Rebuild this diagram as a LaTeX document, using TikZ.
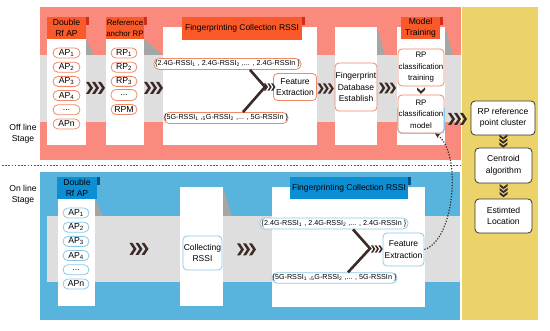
\documentclass[tikz,border=0pt]{standalone}
\usepackage{fontspec}
\setmainfont{Liberation Sans}
\usetikzlibrary{calc,arrows.meta}

\definecolor{pinkbg}{RGB}{250,138,126}
\definecolor{yellowbg}{RGB}{235,211,106}
\definecolor{bluebg}{RGB}{88,180,220}
\definecolor{bandgray}{RGB}{222,222,222}
\definecolor{shadowgray}{RGB}{165,165,165}
\definecolor{hdror}{RGB}{250,90,42}
\definecolor{tabor}{RGB}{212,44,24}
\definecolor{hdrbl}{RGB}{12,142,212}
\definecolor{tabbl}{RGB}{0,82,138}
\definecolor{linor}{RGB}{238,138,104}
\definecolor{linbl}{RGB}{140,200,230}
\definecolor{chevcol}{RGB}{60,42,38}
\definecolor{dashcol}{RGB}{90,90,90}

\tikzset{
  fnt/.style={font=\fontsize{#1}{11.5}\selectfont},
  hdrbox/.style={inner sep=0pt, align=center, fnt=8.6},
  pillO/.style={draw=linor, line width=0.8pt, fill=white, rounded corners=5pt,
     inner sep=0pt, minimum width=27pt, minimum height=10pt, fnt=8.7},
  pillB/.style={pillO, draw=linbl},
  rssi/.style={draw=#1, line width=0.8pt, fill=white, rounded corners=5pt,
     inner sep=0pt, minimum height=11pt, fnt=7.2},
  boxO/.style={draw=linor, line width=0.8pt, fill=white, rounded corners=4pt,
     inner sep=0pt, align=center, fnt=8.5},
  boxB/.style={boxO, draw=linbl},
  boxK/.style={draw=black!80, line width=0.8pt, fill=white, rounded corners=4pt,
     inner sep=0pt, align=center, fnt=8.6, minimum width=57pt, minimum height=34pt},
  lbl/.style={inner sep=0pt, align=center, fnt=8.6},
  vline/.style={draw=chevcol, line width=2.6pt, line join=miter},
  chevs/.pic={\foreach \d in {-6,0,6}
     {\fill[chevcol] (\d-3.5,-6) -- (\d-0.5,-6) -- (\d+3.5,0) -- (\d-0.5,6) -- (\d-3.5,6) -- (\d+0.5,0) -- cycle;}},
  chevdown/.pic={\foreach \d in {-4,0,4}
     {\fill[chevcol] (-4,\d-3) -- (0,\d) -- (4,\d-3) -- (4,\d-0.8) -- (0,\d+2.2) -- (-4,\d-0.8) -- cycle;}},
  chevone/.pic={\fill[chevcol] (-4,-3) -- (0,0.5) -- (4,-3) -- (4,-0.5) -- (0,3.5) -- (-4,-0.5) -- cycle;},
}

\begin{document}
\begin{tikzpicture}[x=1pt,y=-1pt]
\useasboundingbox (0,0) rectangle (550,331);
\fill[white] (0,0) rectangle (550,331);

% panels
\fill[pinkbg] (40,7) rectangle (461,160);
\fill[yellowbg] (462,7) rectangle (538,320);
\fill[bluebg] (40,172) rectangle (460,320);
% gray bands
\fill[bandgray] (40,55) rectangle (461,122);
\fill[bandgray] (47,216) rectangle (460,282);
% dashed separator
\draw[dashcol, line width=0.6pt, dash pattern=on 1.6pt off 1.6pt] (2,165) -- (460,165);

% shadows (pink)
\fill[shadowgray] (86,39) -- (94,55) -- (86,55) -- cycle;
\fill[shadowgray] (144,39) -- (163,55) -- (144,55) -- cycle;
\fill[shadowgray] (377,27) -- (385,55) -- (377,55) -- cycle;
\fill[shadowgray] (445,27) -- (453,55) -- (445,55) -- cycle;
% shadows (blue)
\fill[shadowgray] (95,199) -- (103,216) -- (95,216) -- cycle;
\fill[shadowgray] (223,187) -- (232,216) -- (223,216) -- cycle;

% white columns (pink)
\fill[white] (47,39) rectangle (86,145);
\fill[white] (106,39) rectangle (144,145);
\fill[white] (163,27) rectangle (317,145);
\fill[white] (335,27) rectangle (377,145);
\fill[white] (397,27) rectangle (445,145);
% white columns (blue)
\fill[white] (58,199) rectangle (95,306);
\fill[white] (180,187) rectangle (223,306);
\fill[white] (272,187) rectangle (425,307);

% headers (pink)
\node[hdrbox, fill=hdror, minimum width=39pt, minimum height=22pt] (h1) at (66.5,28) {Double\\Rf AP};
\fill[tabor] (h1.north east) rectangle ++(3,8);
\node[hdrbox, fill=hdror, minimum width=38pt, minimum height=22pt, fnt=7.9] (h2) at (125,28) {Reference\\anchor RP};
\fill[tabor] (h2.north east) rectangle ++(3,8);
\node[hdrbox, fill=hdror, minimum width=120pt, minimum height=23pt, fnt=8.5] (h3) at (242,28.5) {Fingerprinting Collection RSSI};
\fill[tabor] (h3.north east) rectangle ++(3,8);
\node[hdrbox, fill=hdror, minimum width=39pt, minimum height=22pt] (h5) at (420.5,28) {Model\\Training};
\fill[tabor] (h5.north east) rectangle ++(3,8);
% headers (blue)
\node[hdrbox, fill=hdrbl, minimum width=40pt, minimum height=22pt] (b1) at (77,188) {Double\\Rf AP};
\fill[tabbl] (b1.north east) rectangle ++(2.5,8);
\node[hdrbox, fill=hdrbl, minimum width=118pt, minimum height=22pt, fnt=8.5] (b3) at (349,188) {Fingerprinting Collection RSSI};
\fill[tabbl] (b3.north east) rectangle ++(3,8);

% labels
\node[lbl] (off) at (23,134) {Off line\\Stage};
\node[lbl] (on) at (23,195) {On line\\Stage};

% AP pills (pink)
\node[pillO] (ap1) at (66.5,53) {AP\textsubscript{1}};
\node[pillO] (ap2) at (66.5,67.2) {AP\textsubscript{2}};
\node[pillO] (ap3) at (66.5,81.4) {AP\textsubscript{3}};
\node[pillO] (ap4) at (66.5,95.6) {AP\textsubscript{4}};
\node[pillO] (ap5) at (66.5,109.8) {...};
\node[pillO] (ap6) at (66.5,124) {APn};
% RP pills
\node[pillO, minimum width=26pt] (rp1) at (124,53) {RP\textsubscript{1}};
\node[pillO, minimum width=26pt] (rp2) at (124,67.2) {RP\textsubscript{2}};
\node[pillO, minimum width=26pt] (rp3) at (124,81.4) {RP\textsubscript{3}};
\node[pillO, minimum width=26pt, minimum height=11pt] (rp4) at (124,95) {...};
\node[pillO, minimum width=26pt] (rp5) at (124,109.5) {RPM};

% RSSI pills (pink)
\node[rssi=linor, minimum width=147pt] (s1) at (227.5,64) {\{2.4G-RSSI\textsubscript{1} , 2.4G-RSSI\textsubscript{2} ,... , 2.4G-RSSIn \}};
\node[rssi=linor, minimum width=124pt] (s2) at (226,118) {\{5G-RSSI\textsubscript{1} ,\textsubscript{5}G-RSSI\textsubscript{2} ,... , 5G-RSSIn \}};
\node[boxO, minimum width=43pt, minimum height=27pt] (fe1) at (295,87) {Feature\\Extraction};
\node[boxO, minimum width=42pt, minimum height=48pt] (fdb) at (356,87) {Fingerprint\\Database\\Establish};
\node[boxO, minimum width=46pt, minimum height=37pt, fnt=7.9] (rpt) at (421,67.5) {RP\\classification\\training};
\node[boxO, minimum width=46pt, minimum height=38pt, fnt=7.9] (rpm) at (421,114) {RP\\classification\\model};
\draw[draw=linbl, line width=0.8pt, rounded corners=4pt] ([yshift=6pt]rpm.west) |- (rpm.south) -| ([yshift=6pt]rpm.east);

% yellow column
\node[boxK, minimum width=64pt] (clu) at (503,118) {RP reference\\point cluster};
\node[boxK, minimum height=35pt] (cen) at (503.5,165.5) {Centroid\\algorithm};
\node[boxK] (loc) at (503.5,216) {Estimted\\Location};

% AP pills (blue)
\node[pillB, minimum width=26pt] (bp1) at (76,213) {AP\textsubscript{1}};
\node[pillB, minimum width=26pt] (bp2) at (76,227.2) {AP\textsubscript{2}};
\node[pillB, minimum width=26pt] (bp3) at (76,241.4) {AP\textsubscript{3}};
\node[pillB, minimum width=26pt] (bp4) at (76,255.6) {AP\textsubscript{4}};
\node[pillB, minimum width=26pt] (bp5) at (76,269.8) {...};
\node[pillB, minimum width=26pt] (bp6) at (76,284) {APn};

\node[boxB, minimum width=39pt, minimum height=34pt] (col) at (202.5,253) {Collecting\\RSSI};
\node[rssi=linbl, minimum width=148pt] (s3) at (334,223.5) {\{2.4G-RSSI\textsubscript{1} , 2.4G-RSSI\textsubscript{2} ,... , 2.4G-RSSIn \}};
\node[rssi=linbl, minimum width=125pt, minimum height=10.5pt] (s4) at (334.5,278) {\{5G-RSSI\textsubscript{1} ,\textsubscript{5}G-RSSI\textsubscript{2} ,... , 5G-RSSIn \}};
\node[boxB, minimum width=41pt, minimum height=33pt] (fe2) at (403.5,249.5) {Feature\\Extraction};

% converging lines
\coordinate (tip1) at (265,87);
\coordinate (tip2) at (370,248.5);
\draw[vline] (s1.south -| 250,0) -- (tip1) -- (s2.north -| 243,0);
\draw[vline] (s3.south -| 353,0) -- (tip2) -- (s4.north -| 348,0);

% chevrons (pink)
\pic at ($(ap3.east)!0.5!(rp3.west)+(0,6.5)$) {chevs};
\pic at (153.5,88) {chevs};
\pic[scale=0.62] at ($(tip1)!0.5!(fe1.west)+(0.5,0)$) {chevs};
\pic[scale=0.85] at ($(fe1.east)!0.5!(fdb.west)+(0,1.5)$) {chevs};
\pic[scale=0.9] at ($(fdb.east)!0.5!(rpt.west |- fdb.west)+(0,1)$) {chevs};
\pic at ($(rpm.east)!0.5!(clu.west)+(0,3)$) {chevs};
\pic at ($(rpt.south)!0.5!(rpm.north)$) {chevone};
% chevrons (yellow)
\pic at ($(clu.south)!0.5!(cen.north)$) {chevdown};
\pic at ($(cen.south)!0.5!(loc.north)$) {chevdown};
% chevrons (blue)
\pic at (139,249) {chevs};
\pic at ($(col.east)!0.5!(s4.west |- col.east)+(-0.5,-3.5)$) {chevs};
\pic[scale=0.62] at ($(tip2)!0.5!(fe2.west)+(0.5,0)$) {chevs};

% dotted feedback arrow
\draw[chevcol, line width=1.2pt, dash pattern=on 1.2pt off 1.6pt, -{Stealth[length=5pt,width=4.5pt]}]
  (fe2.east) .. controls (455,240) and (462,152) .. ([xshift=14pt]rpm.south);
\end{tikzpicture}
\end{document}
